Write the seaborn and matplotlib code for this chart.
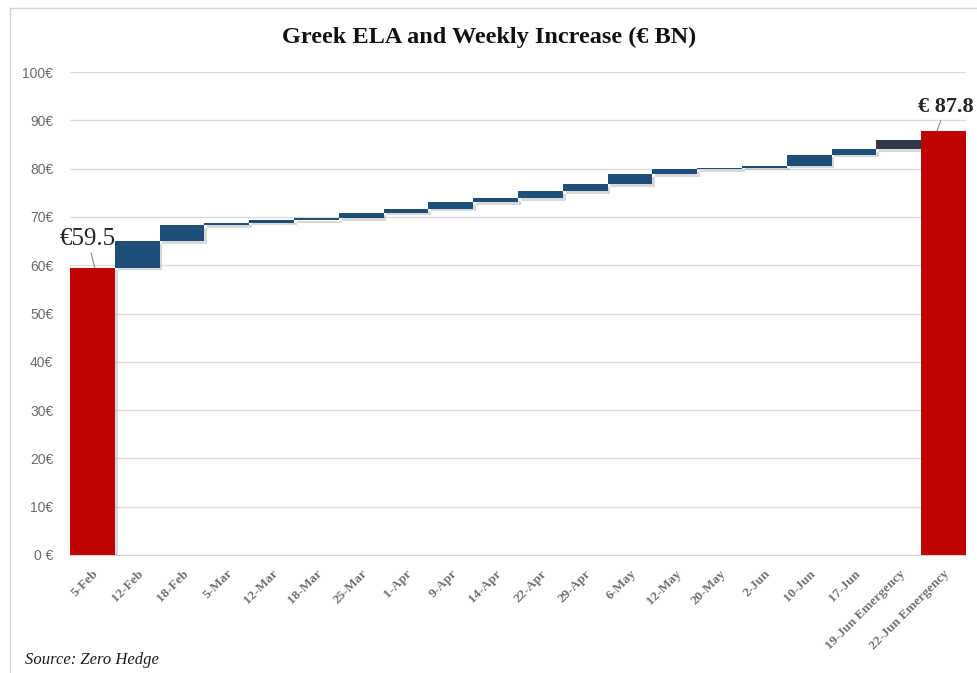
import matplotlib
matplotlib.use('Agg')
import matplotlib.pyplot as plt
import matplotlib.patheffects as pe
from matplotlib.patches import Rectangle
import seaborn as sns

# data (EUR bn)
weeks = ['5-Feb', '12-Feb', '18-Feb', '5-Mar', '12-Mar', '18-Mar', '25-Mar', '1-Apr',
         '9-Apr', '14-Apr', '22-Apr', '29-Apr', '6-May', '12-May', '20-May', '2-Jun',
         '10-Jun', '17-Jun', '19-Jun Emergency', '22-Jun Emergency']
ela_level = [59.5, 65.0, 68.3, 68.8, 69.3, 69.7, 70.9, 71.7, 73.1, 73.9, 75.4, 76.8,
             78.8, 79.9, 80.2, 80.6, 82.9, 84.0, 85.9, 87.8]
bar_kind = ['total'] + ['step'] * 17 + ['emergency', 'total']
y_ticks = [0, 10, 20, 30, 40, 50, 60, 70, 80, 90, 100]
y_tick_labels = ['0 €', '10€', '20€', '30€', '40€', '50€', '60€', '70€', '80€', '90€', '100€']

colors = {'total': '#c00000', 'step': '#1f4e79', 'emergency': '#2e3a4c'}

# weekly increase and where each floating piece starts
base = []
height = []
for i, k in enumerate(bar_kind):
    if k == 'total':
        base.append(0)
        height.append(ela_level[i])
    else:
        base.append(ela_level[i - 1])
        height.append(ela_level[i] - ela_level[i - 1])

sns.set_style('white')
fig = plt.figure(figsize=(9.78, 6.73), dpi=100)
ax = fig.add_axes([70 / 978, 1 - 555 / 673, 896 / 978, 483 / 673])

sns.barplot(x=weeks, y=height, color='#1f4e79', width=1.0, ax=ax, zorder=3)
for p, b, k in zip(ax.patches, base, bar_kind):
    p.set_y(b)
    p.set_facecolor(colors[k])
    p.set_edgecolor('none')
    p.set_path_effects([pe.SimplePatchShadow(offset=(2, -2), alpha=0.22, shadow_rgbFace='#555555'),
                        pe.Normal()])

ax.set_ylim(0, 100)
ax.set_xlim(-0.5, len(weeks) - 0.5)
ax.set_yticks(y_ticks)
ax.set_yticklabels(y_tick_labels, family='Liberation Sans', fontsize=10, color='#6b6b6b')
ax.yaxis.grid(True, color='#dcdcdc', linewidth=1, zorder=0)
ax.set_axisbelow(True)
for s in ['top', 'right', 'left']:
    ax.spines[s].set_visible(False)
ax.spines['bottom'].set_color('#d0d0d0')
ax.tick_params(axis='y', length=0, pad=12)

ax.set_xticks(range(len(weeks)))
ax.set_xticklabels(weeks, rotation=45, ha='right', rotation_mode='anchor',
                   family='Liberation Serif', fontweight='bold', fontsize=9.5, color='#707070')
ax.tick_params(axis='x', which='major', length=0, pad=9)
ax.set_xticks([i + 0.5 for i in range(len(weeks))], minor=True)
ax.tick_params(axis='x', which='minor', length=4, color='#d0d0d0')
ax.set_xlabel('')
ax.set_ylabel('')

# value call-outs
ax.annotate('€59.5', xy=(0.05, ela_level[0]), xytext=(-0.1, 63.2), ha='center', va='bottom',
            family='Liberation Serif', fontsize=18, color='#262626',
            arrowprops=dict(arrowstyle='-', color='#8a8a8a', lw=0.8, shrinkA=0, shrinkB=0))
ax.annotate('€ 87.8', xy=(18.85, ela_level[-1]), xytext=(19.05, 90.6), ha='center', va='bottom',
            family='Liberation Serif', fontweight='bold', fontsize=16, color='#262626',
            arrowprops=dict(arrowstyle='-', color='#8a8a8a', lw=0.8, shrinkA=0, shrinkB=0))

fig.text(0.5, 1 - 37 / 673, 'Greek ELA and Weekly Increase (€ BN)', ha='center', va='center',
         family='Liberation Serif', fontweight='bold', fontsize=17.5, color='#111111')
fig.text(25 / 978, 1 - 660 / 673, 'Source: Zero Hedge', ha='left', va='center',
         family='Liberation Serif', style='italic', fontsize=12, color='#1a1a1a')

# light frame around the chart
fig.patches.append(Rectangle((10 / 978, -0.01), 1.0, 1 - 8 / 673 + 0.01, transform=fig.transFigure,
                             fill=False, edgecolor='#d4d4d4', linewidth=1))

fig.savefig('out.png', dpi=100)
